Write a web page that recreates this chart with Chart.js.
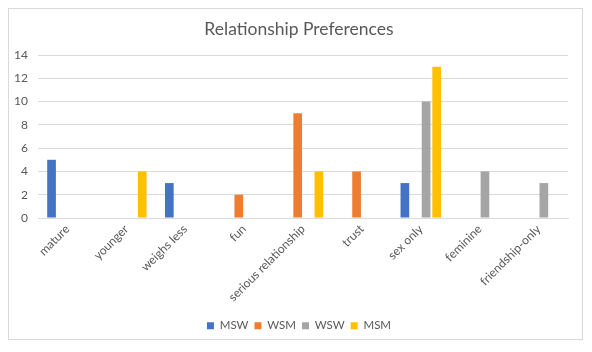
<!DOCTYPE html>
<html>
<head>
<meta charset="utf-8">
<script src="https://cdn.jsdelivr.net/npm/chart.js@4/dist/chart.umd.min.js"></script>
<style>
  html, body { margin: 0; padding: 0; background: #ffffff; }
  #wrap { position: relative; width: 592px; height: 352px; }
  #frame { position: absolute; left: 8px; top: 8px; width: 575px; height: 332px; border: 1px solid #d9d9d9; box-sizing: border-box; }
  canvas { position: absolute; left: 0; top: 0; }
</style>
</head>
<body>
<div id="wrap">
  <div id="frame"></div>
  <canvas id="c" width="592" height="352"></canvas>
</div>
<script>
const categories = ["mature", "younger", "weighs less", "fun", "serious relationship", "trust", "sex only", "feminine", "friendship-only"];
const seriesNames = ["MSW", "WSM", "WSW", "MSM"];
const msw = [5, null, 3, null, null, null, 3, null, null];
const wsm = [null, null, null, 2, 9, 4, null, null, null];
const wsw = [null, null, null, null, null, null, 10, 4, 3];
const msm = [null, 4, null, null, 4, null, 13, null, null];
const yTicks = [0, 2, 4, 6, 8, 10, 12, 14];
const colors = ["#4472C4", "#ED7D31", "#A5A5A5", "#FFC000"];

const txt = "#595959";
const fam = "Lato, 'Noto Sans', sans-serif";

new Chart(document.getElementById("c"), {
  type: "bar",
  data: {
    labels: categories,
    datasets: [msw, wsm, wsw, msm].map((d, i) => ({
      label: seriesNames[i],
      data: d,
      backgroundColor: colors[i],
      borderWidth: 0,
      categoryPercentage: 0.72,
      barPercentage: 0.82
    }))
  },
  options: {
    responsive: false,
    animation: false,
    devicePixelRatio: 1,
    layout: { padding: { left: 10, right: 4, top: 0, bottom: 10.5 } },
    plugins: {
      title: {
        display: true,
        text: "Relationship Preferences",
        color: txt,
        font: { family: fam, size: 17.5, weight: "normal" },
        padding: { top: 19, bottom: 15 }
      },
      legend: {
        position: "bottom",
        labels: {
          color: txt,
          font: { family: fam, size: 11.5 },
          boxWidth: 7,
          boxHeight: 7,
          padding: 6
        }
      },
      tooltip: { enabled: false }
    },
    scales: {
      x: {
        grid: { display: false, drawTicks: false },
        border: { display: true, color: "#d9d9d9" },
        ticks: {
          color: txt,
          font: { family: fam, size: 12 },
          maxRotation: 45,
          minRotation: 45,
          autoSkip: false,
          padding: 4
        },
        afterFit: (s) => { s.height = 96; }
      },
      y: {
        min: 0,
        max: 14,
        afterBuildTicks: (s) => { s.ticks = yTicks.map(v => ({ value: v })); },
        grid: { color: "#d9d9d9", drawTicks: false },
        border: { display: false },
        ticks: {
          color: txt,
          font: { family: fam, size: 12 },
          padding: 10
        },
        afterFit: (s) => { s.width = 28; }
      },
      yRight: {
        position: "right",
        min: 0,
        max: 14,
        grid: { display: false, drawTicks: false },
        border: { display: false },
        ticks: { display: false },
        afterFit: (s) => { s.width = 20; }
      }
    }
  }
});
</script>
</body>
</html>
